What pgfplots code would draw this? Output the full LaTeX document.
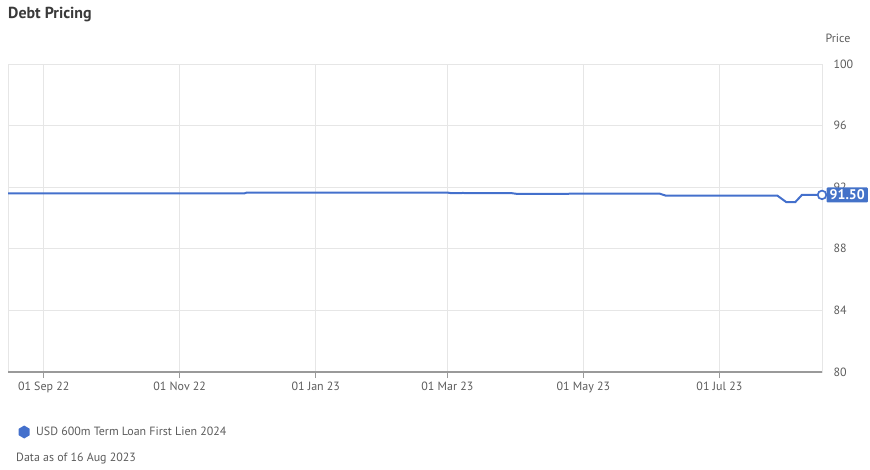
\documentclass[border=0pt]{standalone}
\usepackage{pgfplots}
\pgfplotsset{compat=1.18}
\usepackage{fontspec}
\setmainfont{PT Sans}
\definecolor{lineblue}{HTML}{4470CC}
\definecolor{boxblue}{HTML}{4472C8}
\definecolor{gridc}{HTML}{E6E6E6}
\definecolor{txt}{HTML}{5C5C5C}
\definecolor{darktxt}{HTML}{3A3A3A}
\definecolor{axc}{HTML}{9A9A9A}
\begin{document}
\begin{tikzpicture}[x=1bp,y=1bp]
\path (0,0) rectangle (870,-470);
\node[anchor=west, inner sep=0, font=\fontsize{16}{17}\selectfont\bfseries, text=darktxt] at (8,-15) {Debt Pricing};
\begin{axis}[
  at={(8bp,-372bp)}, anchor=south west,
  scale only axis, width=814bp, height=308bp,
  xmin=-16, xmax=349, ymin=80, ymax=100,
  clip=false,
  axis line style={gridc},
  grid=major, grid style={gridc, line width=0.8bp},
  xtick={0,61,122,181,242,303},
  xticklabels={01 Sep 22,01 Nov 22,01 Jan 23,01 Mar 23,01 May 23,01 Jul 23},
  ytick={80,84,88,92,96,100},
  xtick pos=lower, ytick pos=right, yticklabel pos=right,
  tick align=outside,
  x tick style={axc, line width=0.9bp}, major tick length=6bp,
  y tick style={draw=none},
  /pgf/number format/assume math mode=true,
  tick label style={font=\fontsize{12}{13}\selectfont, text=txt},
  yticklabel style={anchor=west, xshift=2bp},
  legend style={draw=none, fill=none, at={(axis description cs:0,0)}, anchor=west,
    xshift=7bp, yshift=-60bp, font=\fontsize{12}{13}\selectfont, text=txt,
    legend cell align=left},
  legend image code/.code={\path[draw=none,fill=none] (-6bp,0)--(10bp,0);\fill[lineblue,draw=none] (0bp,-6.5bp)--(5.5bp,-3.2bp)--(5.5bp,3.2bp)--(0bp,6.5bp)--(-5.5bp,3.2bp)--(-5.5bp,-3.2bp)--cycle;},
]
\addplot[lineblue, line width=2bp] coordinates {
(-16,91.60) (90,91.60) (91,91.65) (181,91.65) (183,91.61) (187,91.61) (188,91.63) (189,91.61)
(210,91.61) (212,91.57) (235,91.57) (237,91.59) (276,91.59) (279,91.45) (329,91.45)
(333,91.03) (337,91.03) (340,91.50) (349,91.50)
};
\addlegendentry{USD 600m Term Loan First Lien 2024}
\addplot[only marks, mark=*, mark size=4.3bp, mark options={fill=white, draw=lineblue, line width=1.7bp}, forget plot] coordinates {(349,91.50)};
\coordinate (endpt) at (axis cs:349,91.50);
\coordinate (bl) at (rel axis cs:0,0);
\coordinate (br) at (rel axis cs:1,0);
\coordinate (tr) at (rel axis cs:1,1);
\end{axis}
\draw[axc, line width=1.5bp] (bl) -- (br);
\node[anchor=west, fill=boxblue, text=white, inner xsep=3bp, inner ysep=2.5bp, rounded corners=1bp,
  font=\fontsize{14}{15}\selectfont\bfseries, xshift=4.5bp] at (endpt) {91.50};
\node[anchor=south, inner sep=0, font=\fontsize{12}{13}\selectfont, text=txt] at ([xshift=16bp,yshift=21bp]tr) {Price};
\node[anchor=west, inner sep=0, font=\fontsize{12}{13}\selectfont, text=txt] at (16,-459) {Data as of 16 Aug 2023};
\end{tikzpicture}
\end{document}
